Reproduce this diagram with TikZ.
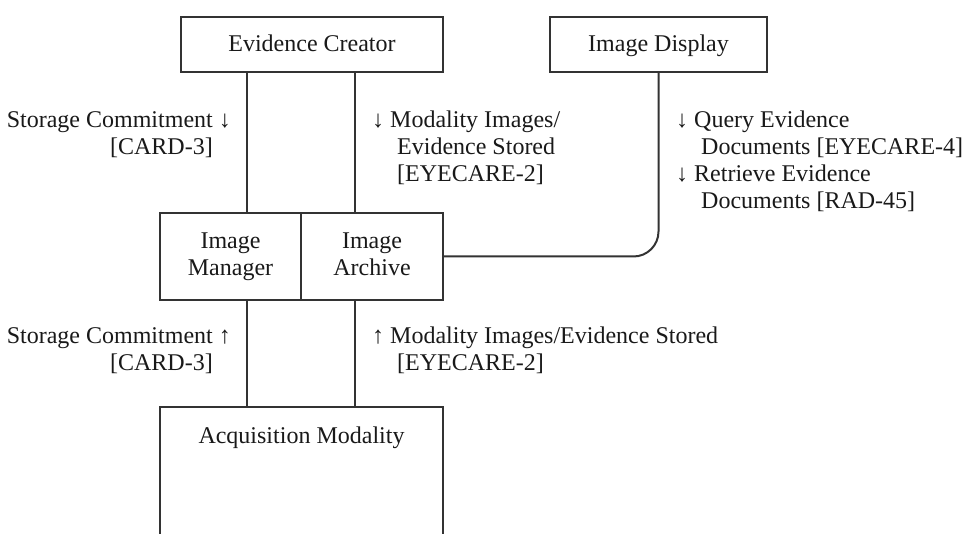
\documentclass[tikz,border=0pt]{standalone}
\usepackage{fontspec}
\setmainfont{Liberation Serif}
\begin{document}
\begin{tikzpicture}[x=1pt,y=-1pt,
  every node/.style={font=\fontsize{24}{27}\selectfont, text=black!90},
  box/.style={draw=black!80, line width=2pt, inner sep=0pt, align=center},
  onebox/.style={box, text height=16pt, text depth=1pt},
  conn/.style={draw=black!80, line width=2pt},
  lbl/.style={inner sep=0pt}]
\useasboundingbox (0,0) rectangle (965,534);
% boxes
\node[onebox, minimum width=262pt, minimum height=55pt] (ec) at (312,44.5) {Evidence Creator};
\node[onebox, minimum width=217pt, minimum height=55pt] (id) at (658.5,44.5) {Image Display};
\node[box, minimum width=141pt, minimum height=87pt] (im) at (230.5,256.5) {\strut Image\\\strut Manager};
\node[box, minimum width=142pt, minimum height=87pt] (ia) at (372,256.5) {\strut Image\\\strut Archive};
\node[inner sep=0pt, minimum width=283pt, minimum height=127pt] (am) at (301.5,470.5) {};
\draw[conn] (am.south west) -- (am.north west) -- (am.north east) -- (am.south east);
\node[lbl, anchor=base] (amt) at (301.5,443) {Acquisition Modality};
% connectors
\draw[conn] (ec.south -| 247,0) -- (im.north -| 247,0);
\draw[conn] (ec.south -| 355,0) -- (ia.north -| 355,0);
\draw[conn] (im.south -| 247,0) -- (am.north -| 247,0);
\draw[conn] (ia.south -| 355,0) -- (am.north -| 355,0);
\draw[conn, rounded corners=25pt] (ia.east) -| (id.south);
% labels
\node[lbl, anchor=north east, align=right] (l1) at (213,108) {\strut Storage Commitment\rlap{ ↓}\\{}[CARD-3]};
\node[lbl, anchor=north west, align=left] (l2) at (372,108) {\strut ↓ Modality Images/\\\hspace*{25pt}Evidence Stored\\\hspace*{25pt}[EYECARE-2]};
\node[lbl, anchor=north west, align=left] (l3) at (676,108) {\strut ↓ Query Evidence\\\hspace*{25pt}Documents [EYECARE-4]\\↓ Retrieve Evidence\\\hspace*{25pt}Documents [RAD-45]};
\node[lbl, anchor=north east, align=right] (l4) at (213,324) {\strut Storage Commitment\rlap{ ↑}\\{}[CARD-3]};
\node[lbl, anchor=north west, align=left] (l5) at (372,324) {\strut ↑ Modality Images/Evidence Stored\\\hspace*{25pt}[EYECARE-2]};
\end{tikzpicture}
\end{document}
